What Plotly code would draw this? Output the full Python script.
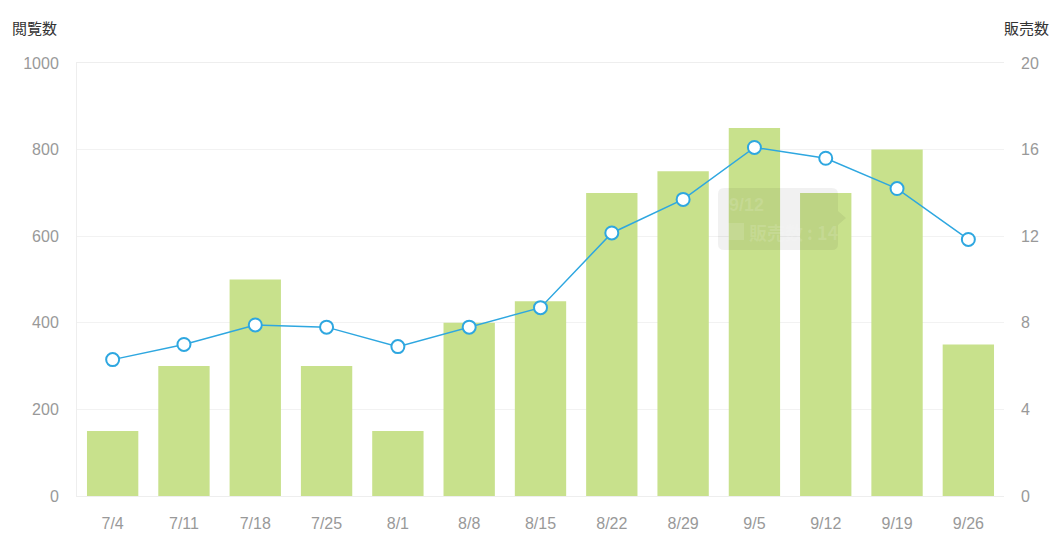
import plotly.graph_objects as go

dates = ["7/4", "7/11", "7/18", "7/25", "8/1", "8/8", "8/15", "8/22", "8/29", "9/5", "9/12", "9/19", "9/26"]
views = [150, 300, 500, 300, 150, 400, 450, 700, 750, 850, 700, 800, 350]
sales = [6.3, 7.0, 7.9, 7.8, 6.9, 7.8, 8.7, 12.15, 13.7, 16.1, 15.6, 14.2, 11.85]
left_ticks = [0, 200, 400, 600, 800, 1000]
right_ticks = [0, 4, 8, 12, 16, 20]

L, R, T, B = 77, 1004, 63, 496
W, H = R - L, B - T


def px(x):
    return (x - L) / W


def py(y):
    return (B - y) / H


def rounded_box(x0, y0, x1, y1, r, tip):
    pts = [
        f"M {px(x0 + r)} {py(y0)}",
        f"L {px(x1 - r)} {py(y0)}",
        f"Q {px(x1)} {py(y0)} {px(x1)} {py(y0 + r)}",
        f"L {px(x1)} {py(tip[1] - 7)}",
        f"L {px(tip[0])} {py(tip[1])}",
        f"L {px(x1)} {py(tip[1] + 7)}",
        f"L {px(x1)} {py(y1 - r)}",
        f"Q {px(x1)} {py(y1)} {px(x1 - r)} {py(y1)}",
        f"L {px(x0 + r)} {py(y1)}",
        f"Q {px(x0)} {py(y1)} {px(x0)} {py(y1 - r)}",
        f"L {px(x0)} {py(y0 + r)}",
        f"Q {px(x0)} {py(y0)} {px(x0 + r)} {py(y0)}",
        "Z",
    ]
    return " ".join(pts)


fig = go.Figure()
fig.add_trace(go.Bar(x=dates, y=views, name="閲覧数", marker=dict(color="#c8e18c", line=dict(width=0)), yaxis="y"))
fig.add_trace(go.Scatter(x=dates, y=sales, name="販売数", mode="lines+markers", yaxis="y2",
                         line=dict(color="#2ea7e0", width=1.5),
                         marker=dict(size=13, color="white", line=dict(color="#2ea7e0", width=2))))

font = "Liberation Sans, Arial, Noto Sans CJK JP, sans-serif"
tip_col = "rgba(255,255,255,0.13)"
fig.update_layout(
    width=1061, height=542, margin=dict(l=L, r=1061 - R, t=T, b=542 - B),
    paper_bgcolor="white", plot_bgcolor="white", showlegend=False, bargap=0.28,
    font=dict(family=font, color="#999", size=16),
    xaxis=dict(range=[-0.5, 12.5], showgrid=False, showline=True, linecolor="#eeeeee", linewidth=1, mirror=True,
               ticks="", tickfont=dict(size=16, color="#999"), ticklabelstandoff=13, automargin=False),
    yaxis=dict(range=[0, 1000], tickvals=left_ticks, gridcolor="#f2f2f2", showline=True,
               linecolor="#eeeeee", zeroline=False, tickfont=dict(size=16, color="#999"),
               ticklabelstandoff=14, automargin=False),
    yaxis2=dict(range=[0, 20], tickvals=right_ticks, overlaying="y", side="right", showgrid=False,
                zeroline=False, tickfont=dict(size=16, color="#999"), ticklabelstandoff=16, automargin=False),
    shapes=[
        dict(type="path", xref="paper", yref="paper", path=rounded_box(718, 188, 838, 250, 6, (846, 218)),
             fillcolor="rgba(0,0,0,0.055)", line=dict(width=0), layer="above"),
        dict(type="rect", xref="paper", yref="paper", x0=px(728), x1=px(744), y0=py(240), y1=py(223),
             fillcolor=tip_col, line=dict(width=0), layer="above"),
    ],
    annotations=[
        dict(text="閲覧数", xref="paper", yref="paper", x=px(10), y=py(27), xanchor="left", yanchor="middle",
             showarrow=False, font=dict(size=15, color="#333", family="Noto Sans CJK JP")),
        dict(text="販売数", xref="paper", yref="paper", x=px(1051), y=py(27), xanchor="right", yanchor="middle",
             showarrow=False, font=dict(size=15, color="#333", family="Noto Sans CJK JP")),
        dict(text="<b>9/12</b>", xref="paper", yref="paper", x=px(727), y=py(205), xanchor="left", yanchor="middle",
             showarrow=False, font=dict(size=18, color=tip_col)),
        dict(text="<b>販売数 : 14</b>", xref="paper", yref="paper", x=px(747), y=py(232), xanchor="left", yanchor="middle",
             showarrow=False, font=dict(size=18, color=tip_col, family="Noto Sans CJK JP")),
    ],
)
fig.write_html("out.html")
